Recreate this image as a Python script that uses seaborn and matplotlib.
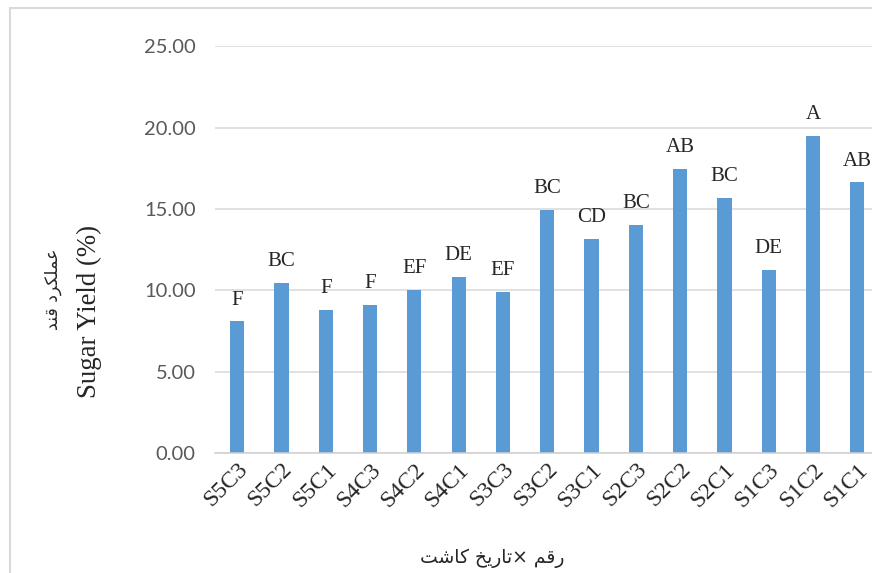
import matplotlib
matplotlib.use("Agg")
import matplotlib.pyplot as plt
from matplotlib.patches import Rectangle
from matplotlib.ticker import FixedLocator, FuncFormatter
import seaborn as sns
import pandas as pd

# data
treatments = ['S5C3', 'S5C2', 'S5C1', 'S4C3', 'S4C2', 'S4C1', 'S3C3', 'S3C2',
              'S3C1', 'S2C3', 'S2C2', 'S2C1', 'S1C3', 'S1C2', 'S1C1']
sugar_yield = [8.10, 10.45, 8.80, 9.12, 10.06, 10.84, 9.92, 14.96,
               13.16, 14.02, 17.48, 15.69, 11.27, 19.50, 16.63]
groups = ['F', 'BC', 'F', 'F', 'EF', 'DE', 'EF', 'BC',
          'CD', 'BC', 'AB', 'BC', 'DE', 'A', 'AB']
y_ticks = [0, 5, 10, 15, 20, 25]

y_title_fa = 'عملکرد قند'
y_title_en = 'Sugar Yield (%)'
x_title_fa = 'رقم ×تاریخ کاشت'

# very small arabic/persian shaper (presentation forms + visual order)
FORMS = {
    'ا': ('\uFE8D', '\uFE8E'),
    'د': ('\uFEA9', '\uFEAA'),
    'ر': ('\uFEAD', '\uFEAE'),
    'ت': ('\uFE95', '\uFE96', '\uFE97', '\uFE98'),
    'خ': ('\uFEA5', '\uFEA6', '\uFEA7', '\uFEA8'),
    'ش': ('\uFEB5', '\uFEB6', '\uFEB7', '\uFEB8'),
    'ع': ('\uFEC9', '\uFECA', '\uFECB', '\uFECC'),
    'ق': ('\uFED5', '\uFED6', '\uFED7', '\uFED8'),
    'ل': ('\uFEDD', '\uFEDE', '\uFEDF', '\uFEE0'),
    'م': ('\uFEE1', '\uFEE2', '\uFEE3', '\uFEE4'),
    'ن': ('\uFEE5', '\uFEE6', '\uFEE7', '\uFEE8'),
    'ک': ('\uFB8E', '\uFB8F', '\uFB90', '\uFB91'),
    'ی': ('\uFBFC', '\uFBFD', '\uFBFE', '\uFBFF'),
}


def shape(s):
    out = []
    for i, c in enumerate(s):
        if c not in FORMS:
            out.append(c)
            continue
        prev = s[i - 1] if i > 0 else None
        nxt = s[i + 1] if i + 1 < len(s) else None
        f = FORMS[c]
        jp = prev in FORMS and len(FORMS[prev]) == 4
        jn = nxt in FORMS and len(f) == 4
        if jp and jn:
            out.append(f[3])
        elif jp:
            out.append(f[1])
        elif jn:
            out.append(f[2])
        else:
            out.append(f[0])
    return ''.join(reversed(out))


sns.set_style('white')
plt.rcParams['font.family'] = ['Liberation Serif', 'DejaVu Sans']

df = pd.DataFrame({'treatment': treatments, 'yield': sugar_yield})

fig = plt.figure(figsize=(8.72, 5.73), dpi=100)
ax = fig.add_axes([0.2466, 0.2086, 0.7620, 0.7111])

sns.barplot(data=df, x='treatment', y='yield', color='#5b9bd5', saturation=1,
            width=0.32, linewidth=0, ax=ax)

for i, (v, g) in enumerate(zip(sugar_yield, groups)):
    ax.annotate(g, (i, v), xytext=(0, 12), textcoords='offset points',
                ha='center', va='baseline', fontsize=15,
                family='Liberation Serif', annotation_clip=False)

ax.set_xlim(-0.5, len(treatments) - 0.5)
ax.set_ylim(0, 25)
ax.set_yticks(y_ticks)
ax.yaxis.set_major_formatter(FuncFormatter(lambda v, p: f'{v:.2f}'))
ax.grid(axis='y', color='#d9d9d9', linewidth=1.1)
ax.set_axisbelow(True)
for s in ['top', 'right', 'left']:
    ax.spines[s].set_visible(False)
ax.spines['bottom'].set_color('#d0d0d0')
ax.spines['bottom'].set_linewidth(1.1)

ax.tick_params(axis='y', length=0, pad=14, labelsize=14.5, labelcolor='#595959')
for t in ax.get_yticklabels():
    t.set_family('Lato')
ax.tick_params(axis='x', which='major', length=0, pad=4, labelsize=17)
ax.xaxis.set_minor_locator(FixedLocator([i - 0.5 for i in range(len(treatments) + 1)]))
ax.tick_params(axis='x', which='minor', length=5, color='#d0d0d0', width=1.1)
for t in ax.get_xticklabels():
    t.set_rotation(45)
    t.set_ha('right')
    t.set_va('top')
    t.set_rotation_mode('anchor')

ax.set_xlabel('')
ax.set_ylabel('')

fig.text(0.103, 0.457, y_title_en, rotation=90, ha='center', va='center',
         fontsize=19.4, family='Liberation Serif')
fig.text(0.061, 0.496, shape(y_title_fa), rotation=90, ha='center', va='center',
         fontsize=12.5, family='DejaVu Sans')
fig.text(0.565, 0.026, shape(x_title_fa), ha='center', va='center',
         fontsize=13.5, family='DejaVu Sans')

fig.patches.append(Rectangle((10 / 872, -0.1), 1.2, 1.1 - 8 / 573,
                             transform=fig.transFigure, fill=False,
                             edgecolor='#d9d9d9', linewidth=1.5))

fig.savefig('out.png', dpi=100)
